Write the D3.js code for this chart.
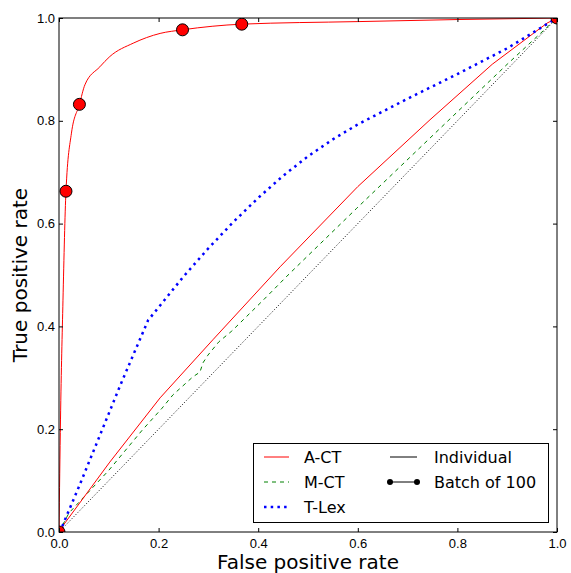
<!DOCTYPE html>
<html>
<head>
<meta charset="utf-8">
<script src="https://cdn.jsdelivr.net/npm/d3@7.9.0/dist/d3.min.js"></script>
<style>
  body { margin: 0; background: #fff; }
  svg { font-family: "DejaVu Sans", sans-serif; }
</style>
</head>
<body>
<svg id="chart" width="571" height="573"></svg>
<script>
// ROC curves, values
const tickValues = [0, 0.2, 0.4, 0.6, 0.8, 1.0];

const actIndividual = [
  [0, 0], [0.01, 0.015], [0.102, 0.136], [0.203, 0.261], [0.309, 0.374],
  [0.444, 0.516], [0.6, 0.672], [0.745, 0.802], [0.87, 0.91], [0.98, 0.99], [1, 1]
];
const mctIndividual = [
  [0, 0], [0.02, 0.037], [0.1, 0.12], [0.167, 0.198], [0.207, 0.241], [0.229, 0.267],
  [0.269, 0.302], [0.283, 0.311], [0.289, 0.329], [0.299, 0.344], [0.321, 0.37],
  [0.347, 0.391], [0.41, 0.451], [0.46, 0.5], [0.598, 0.63], [0.779, 0.798], [0.9, 0.91], [1, 1]
];
const tlexIndividual = [
  [0, 0], [0.006, 0.01], [0.04, 0.088], [0.08, 0.183], [0.125, 0.29], [0.179, 0.412],
  [0.25, 0.497], [0.3, 0.552], [0.35, 0.603], [0.4, 0.65], [0.45, 0.693], [0.5, 0.731],
  [0.55, 0.764], [0.6, 0.793], [0.7, 0.843], [0.8, 0.891], [0.9, 0.941], [1, 1]
];
const actBatchCurve = [
  [0, 0], [0.003, 0.218], [0.008, 0.451], [0.014, 0.663], [0.025, 0.776], [0.041, 0.832],
  [0.052, 0.87], [0.082, 0.905], [0.102, 0.925], [0.149, 0.951], [0.203, 0.97],
  [0.248, 0.977], [0.367, 0.988], [0.6, 0.993], [0.8, 0.997], [1, 1]
];
const actBatchMarkers = [
  [0, 0], [0.014, 0.663], [0.041, 0.832], [0.248, 0.977], [0.367, 0.988], [1, 1]
];
const chance = [[0, 0], [1, 1]];

const svg = d3.select('#chart');
const margin = { left: 59, right: 557, top: 18, bottom: 532 };

const x = d3.scaleLinear().domain([0, 1]).range([margin.left, margin.right]);
const y = d3.scaleLinear().domain([0, 1]).range([margin.bottom, margin.top]);

svg.append('defs').append('clipPath').attr('id', 'plotClip')
  .append('rect')
  .attr('x', margin.left).attr('y', margin.top)
  .attr('width', margin.right - margin.left)
  .attr('height', margin.bottom - margin.top);

const line = d3.line().x(d => x(d[0])).y(d => y(d[1]));
const smooth = d3.line().x(d => x(d[0])).y(d => y(d[1])).curve(d3.curveMonotoneX);
const plot = svg.append('g').attr('clip-path', 'url(#plotClip)');

// chance diagonal
plot.append('path').attr('d', line(chance))
  .attr('fill', 'none').attr('stroke', '#000').attr('stroke-width', 1)
  .attr('stroke-dasharray', '1,2');

plot.append('path').attr('d', line(mctIndividual))
  .attr('fill', 'none').attr('stroke', '#008000').attr('stroke-width', 1)
  .attr('stroke-dasharray', '4,4');

plot.append('path').attr('d', line(actIndividual))
  .attr('fill', 'none').attr('stroke', '#ff0000').attr('stroke-width', 1);

plot.append('path').attr('d', line(tlexIndividual))
  .attr('fill', 'none').attr('stroke', '#0000ff').attr('stroke-width', 2.5)
  .attr('stroke-dasharray', '2.5,4.2');

plot.append('path').attr('d', smooth(actBatchCurve))
  .attr('fill', 'none').attr('stroke', '#ff0000').attr('stroke-width', 1);

plot.selectAll('circle.batch')
  .data(actBatchMarkers)
  .enter().append('circle')
  .attr('class', 'batch')
  .attr('cx', d => x(d[0])).attr('cy', d => y(d[1]))
  .attr('r', 6)
  .attr('fill', '#ff0000').attr('stroke', '#000').attr('stroke-width', 1);

// axes, ticks inside on all four sides
const fmt = d3.format('.1f');
function styleAxis(g) {
  g.select('.domain').remove();
  g.selectAll('line').attr('stroke', '#000');
  g.selectAll('text').attr('font-size', 13).attr('fill', '#000');
}
svg.append('g').attr('transform', `translate(0,${margin.bottom})`)
  .call(d3.axisBottom(x).tickValues(tickValues).tickFormat(fmt).tickSize(-4).tickPadding(7))
  .call(styleAxis);
svg.append('g').attr('transform', `translate(0,${margin.top})`)
  .call(d3.axisTop(x).tickValues(tickValues).tickFormat('').tickSize(-4))
  .call(styleAxis);
svg.append('g').attr('transform', `translate(${margin.left},0)`)
  .call(d3.axisLeft(y).tickValues(tickValues).tickFormat(fmt).tickSize(-4).tickPadding(4))
  .call(styleAxis);
svg.append('g').attr('transform', `translate(${margin.right},0)`)
  .call(d3.axisRight(y).tickValues(tickValues).tickFormat('').tickSize(-4))
  .call(styleAxis);

svg.append('rect')
  .attr('x', margin.left).attr('y', margin.top)
  .attr('width', margin.right - margin.left)
  .attr('height', margin.bottom - margin.top)
  .attr('fill', 'none').attr('stroke', '#000').attr('stroke-width', 1);

// axis titles
svg.append('text')
  .attr('x', (margin.left + margin.right) / 2).attr('y', 569)
  .attr('text-anchor', 'middle').attr('font-size', 20)
  .text('False positive rate');
svg.append('text')
  .attr('transform', `translate(27,${(margin.top + margin.bottom) / 2}) rotate(-90)`)
  .attr('text-anchor', 'middle').attr('font-size', 20)
  .text('True positive rate');

// legend
const legend = svg.append('g');
legend.append('rect')
  .attr('x', 253.5).attr('y', 443.5).attr('width', 295).attr('height', 79)
  .attr('fill', '#fff').attr('stroke', '#000').attr('stroke-width', 1);

const legendItems = [
  { label: 'A-CT', col: 0, row: 0, stroke: '#ff0000', width: 1, dash: null },
  { label: 'M-CT', col: 0, row: 1, stroke: '#008000', width: 1, dash: '4,4' },
  { label: 'T-Lex', col: 0, row: 2, stroke: '#0000ff', width: 2.5, dash: '2.5,4.2' },
  { label: 'Individual', col: 1, row: 0, stroke: '#000', width: 1, dash: null },
  { label: 'Batch of 100', col: 1, row: 1, stroke: '#000', width: 1, dash: null, dots: true }
];
const colX = [[264, 289, 304], [390, 417, 434]];
const rowY = [457, 482, 507];

legendItems.forEach(d => {
  const [x1, x2, tx] = colX[d.col];
  const ly = rowY[d.row];
  const l = legend.append('line')
    .attr('x1', x1).attr('x2', x2).attr('y1', ly).attr('y2', ly)
    .attr('stroke', d.stroke).attr('stroke-width', d.width);
  if (d.dash) l.attr('stroke-dasharray', d.dash);
  if (d.dots) {
    [x1, x2].forEach(cx => legend.append('circle')
      .attr('cx', cx).attr('cy', ly).attr('r', 3).attr('fill', '#000'));
  }
  legend.append('text')
    .attr('x', tx).attr('y', ly).attr('dy', '0.36em')
    .attr('font-size', 16).text(d.label);
});
</script>
</body>
</html>
